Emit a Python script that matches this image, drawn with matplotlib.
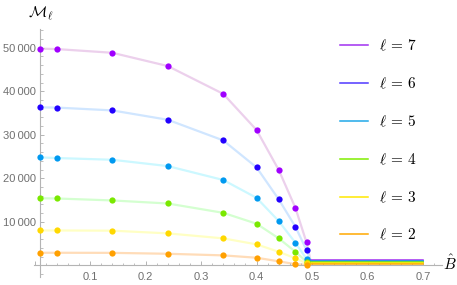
import matplotlib
matplotlib.use("Agg")
import matplotlib.pyplot as plt
from matplotlib.ticker import MultipleLocator, FixedLocator, FuncFormatter

plt.rcParams['mathtext.fontset'] = 'cm'
plt.rcParams['font.family'] = ['Liberation Sans', 'DejaVu Sans']

# ---- data ----
B = [0.01, 0.04, 0.14, 0.24, 0.34, 0.40, 0.44, 0.47, 0.49]
ells = [7, 6, 5, 4, 3, 2]
M7 = [49800, 49700, 48850, 45800, 39400, 31100, 21900, 13200, 5260]
M6 = [36300, 36250, 35600, 33450, 28700, 22500, 15150, 8850, 3500]
M5 = [24800, 24650, 24250, 22800, 19600, 15500, 10150, 5170, 1450]
M4 = [15400, 15350, 14900, 14200, 12050, 9550, 6180, 3100, 800]
M3 = [8000, 8000, 7950, 7330, 6180, 4800, 3100, 1600, 450]
M2 = [2870, 2870, 2850, 2640, 2270, 1730, 900, 250, 120]
series = [M7, M6, M5, M4, M3, M2]
plateau_B = [0.497, 0.70]
plateau_M = [1240, 1070, 890, 690, 510, 320]

point_colors = ['#a000ff', '#2200ff', '#0099f0', '#7ae800', '#ffd800', '#ffa000']
legend_colors = ['#a030f0', '#5038ff', '#20a8e8', '#80ee00', '#ffe800', '#ffa800']
curve_colors = ['#ecd0ec', '#d0e6ff', '#ccf8ff', '#d4ffd0', '#ffffc4', '#ffdcb8']

fig = plt.figure(figsize=(4.57, 2.85), dpi=100)
ax = fig.add_axes([0.0744, 0.029, 0.8926, 0.869])

for ell, M, pc, lc, cc, pm in zip(ells, series, point_colors, legend_colors,
                                  curve_colors, plateau_M):
    ax.plot(B + [plateau_B[0]], M + [pm], color=cc, lw=1.6, zorder=1,
            solid_capstyle='round', solid_joinstyle='round')
    ax.plot(plateau_B, [pm, pm], color=lc, lw=1.1, zorder=2,
            label=r'$\ell\,=\,%d$' % ell)
    ax.plot(B, M, 'o', color=pc, ms=4.5, mec='none', zorder=3)

ax.set_xlim(-0.001, 0.734)
ax.set_ylim(-2640, 54300)

for s in ['top', 'right']:
    ax.spines[s].set_visible(False)
ax.spines['left'].set_position(('data', 0.01))
ax.spines['bottom'].set_position(('data', 0))
for s in ['left', 'bottom']:
    ax.spines[s].set_color('#b4b4b4')
    ax.spines[s].set_linewidth(0.8)

ax.xaxis.set_major_locator(FixedLocator([0.0, 0.1, 0.2, 0.3, 0.4, 0.5, 0.6, 0.7]))
ax.xaxis.set_minor_locator(MultipleLocator(0.02))
ax.yaxis.set_major_locator(FixedLocator([10000, 20000, 30000, 40000, 50000]))
ax.yaxis.set_minor_locator(MultipleLocator(2000))

ax.xaxis.set_major_formatter(FuncFormatter(lambda v, p: '' if abs(v) < 1e-9 else '%.1f' % v))
ax.yaxis.set_major_formatter(FuncFormatter(lambda v, p: ('%d\u2009%03d' % (v // 1000, v % 1000))))

ax.tick_params(which='both', direction='in', colors='#b4b4b4', labelcolor='#707070',
               labelsize=8)
ax.tick_params(which='major', length=3.2, width=0.7)
ax.tick_params(which='minor', length=1.8, width=0.6)
ax.tick_params(axis='x', pad=5)
ax.tick_params(axis='y', pad=3)

fig.text(41 / 457, 1 - 14 / 285, r'$\mathcal{M}_\ell$', fontsize=11,
         ha='center', va='center')
fig.text(450 / 457, 1 - 263 / 285, r'$\hat{B}$', fontsize=11,
         ha='center', va='center')

leg = ax.legend(loc='upper left', bbox_to_anchor=(340 / 457, 1 - 38 / 285),
                bbox_transform=fig.transFigure, frameon=False, fontsize=11,
                handlelength=1.83, handletextpad=0.72, labelspacing=1.47,
                borderaxespad=0, borderpad=0)

fig.savefig('out.png', dpi=100)
